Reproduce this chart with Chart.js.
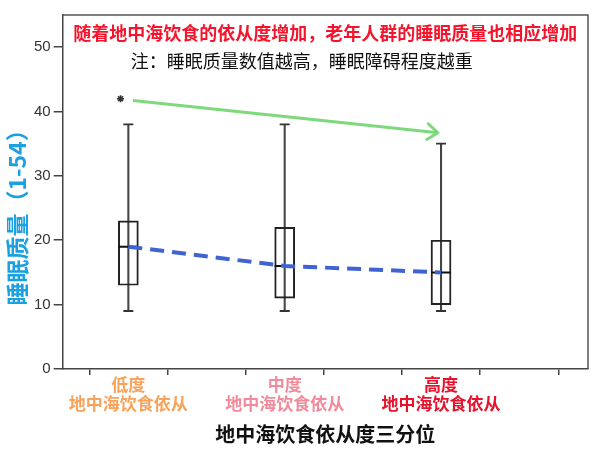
<!DOCTYPE html>
<html>
<head>
<meta charset="utf-8">
<script src="https://cdn.jsdelivr.net/npm/chart.js@4.4.1/dist/chart.umd.min.js"></script>
<style>
  html, body { margin: 0; padding: 0; background: #fff; }
  #wrap { width: 600px; height: 451px; }
</style>
</head>
<body>
<div id="wrap"><canvas id="chart"></canvas></div>
<script>
// ── Data ─────────────────────────────────────────────────────────────────────
const groups      = ['低度', '中度', '高度'];
const groupSub    = '地中海饮食依从';
const groupColors = ['#F8A25A', '#F28A9B', '#E8122C'];
const whiskerLow  = [9, 9, 9];
const whiskerHigh = [38, 38, 35];
const q1          = [13, 11, 10];
const q3          = [23, 22, 20];
const medians     = [19, 16, 15];
const outlierX    = [-0.05];
const outlierY    = [42];
const trendX      = [0.03, 1.98];
const trendY      = [41.7, 36.7];
const yTicks      = [0, 10, 20, 30, 40, 50];
const xTicks      = [0, 0.5, 1, 1.5, 2, 2.5];

const mainTitle = '随着地中海饮食的依从度增加，老年人群的睡眠质量也相应增加';
const noteText  = '注：睡眠质量数值越高，睡眠障碍程度越重';
const yTitle    = '睡眠质量（1-54）';

Chart.defaults.font.family = "'Liberation Sans', 'Noto Sans CJK SC', sans-serif";

const pts = (ys) => ys.map((y, i) => ({ x: i, y: y }));

// ── Plugins ──────────────────────────────────────────────────────────────────
const framePlugin = {
  id: 'frame',
  beforeDatasetsDraw(chart) {
    const { ctx, chartArea: a } = chart;
    ctx.save();
    ctx.strokeStyle = '#555';
    ctx.lineWidth = 1.5;
    ctx.beginPath();
    ctx.moveTo(a.left, a.top);
    ctx.lineTo(a.right, a.top);
    ctx.lineTo(a.right, a.bottom);
    ctx.stroke();

    // captions inside the plot
    ctx.textBaseline = 'middle';
    ctx.fillStyle = '#F5142B';
    ctx.font = "bold 18px 'Noto Sans CJK SC', sans-serif";
    ctx.textAlign = 'center';
    ctx.fillText(mainTitle, (a.left + a.right) / 2, a.top + 18);
    ctx.fillStyle = '#111';
    ctx.font = "18px 'Noto Sans CJK SC', sans-serif";
    ctx.textAlign = 'left';
    ctx.fillText(noteText, a.left + 68, a.top + 46);

    // y axis title (sits a bit below the axis middle, as in the original)
    ctx.translate(17, (a.top + a.bottom) / 2 + 20);
    ctx.rotate(-Math.PI / 2);
    ctx.textAlign = 'center';
    ctx.fillStyle = '#1BA1E2';
    ctx.font = "bold 23px 'Noto Sans CJK SC', sans-serif";
    ctx.fillText(yTitle, 0, 0);
    ctx.restore();
  }
};

const arrowPlugin = {
  id: 'arrowHead',
  afterDatasetsDraw(chart) {
    const idx = chart.data.datasets.findIndex(d => d.label === 'trend');
    const els = chart.getDatasetMeta(idx).data;
    const p0 = els[els.length - 2], p1 = els[els.length - 1];
    const ang = Math.atan2(p1.y - p0.y, p1.x - p0.x);
    const len = 13, spread = 0.65;
    const ctx = chart.ctx;
    ctx.save();
    ctx.strokeStyle = '#7ED87C';
    ctx.lineWidth = 3;
    ctx.lineCap = 'round';
    ctx.lineJoin = 'round';
    ctx.beginPath();
    ctx.moveTo(p1.x - len * Math.cos(ang - spread), p1.y - len * Math.sin(ang - spread));
    ctx.lineTo(p1.x, p1.y);
    ctx.lineTo(p1.x - len * Math.cos(ang + spread), p1.y - len * Math.sin(ang + spread));
    ctx.stroke();
    ctx.restore();
  }
};

// ── Chart ────────────────────────────────────────────────────────────────────
new Chart(document.getElementById('chart'), {
  type: 'bar',
  data: {
    datasets: [
      { label: 'trend', type: 'line', order: 0,
        data: trendX.map((x, i) => ({ x: x, y: trendY[i] })),
        borderColor: '#7ED87C', borderWidth: 3, pointRadius: 0, tension: 0 },
      { label: 'median-line', type: 'line', order: 1,
        data: pts(medians),
        borderColor: '#3F63D3', borderWidth: 4, borderDash: [14, 8],
        pointRadius: 0, tension: 0 },
      { label: 'median', type: 'scatter', order: 2,
        data: pts(medians),
        pointStyle: 'line', pointRadius: 10, borderColor: '#111', borderWidth: 2 },
      { label: 'caps', type: 'scatter', order: 3,
        data: pts(whiskerLow).concat(pts(whiskerHigh)),
        pointStyle: 'line', pointRadius: 5, borderColor: '#333', borderWidth: 1.8 },
      { label: 'outlier', type: 'scatter', order: 3,
        data: outlierX.map((x, i) => ({ x: x, y: outlierY[i] })),
        pointStyle: 'star', pointRadius: 3.5, borderColor: '#333', borderWidth: 1.5 },
      { label: 'box', order: 4,
        data: groups.map((g, i) => ({ x: i, y: [q1[i], q3[i]] })),
        backgroundColor: 'rgba(0,0,0,0)', borderColor: '#222', borderWidth: 1.3,
        borderSkipped: false, barThickness: 20, grouped: false },
      { label: 'whisker', order: 5,
        data: groups.map((g, i) => ({ x: i, y: [whiskerLow[i], whiskerHigh[i]] })),
        backgroundColor: '#444', borderWidth: 0, barThickness: 1.4, grouped: false }
    ]
  },
  options: {
    responsive: true,
    maintainAspectRatio: false,
    animation: false,
    events: [],
    layout: { padding: { left: 31, right: 10, top: 15, bottom: 3 } },
    plugins: { legend: { display: false }, tooltip: { enabled: false } },
    scales: {
      x: {
        type: 'linear', min: -0.42, max: 2.94, offset: false,
        afterBuildTicks: axis => { axis.ticks = xTicks.map(v => ({ value: v })); },
        ticks: {
          autoSkip: false, maxRotation: 0, padding: 2,
          callback: v => Number.isInteger(v) ? [groups[v], groupSub] : '',
          color: ctx => groupColors[ctx.tick.value] || '#000',
          font: { size: 17, weight: 'bold', lineHeight: 1.12 }
        },
        grid: { drawOnChartArea: false, tickLength: 6, color: '#444', lineWidth: 1.5 },
        border: { color: '#444', width: 1.5 },
        title: { display: true, text: '地中海饮食依从度三分位', color: '#111',
          font: { size: 20, weight: 'bold' }, padding: { top: 7, bottom: 0 } }
      },
      y: {
        min: 0, max: 55,
        afterBuildTicks: axis => { axis.ticks = yTicks.map(v => ({ value: v })); },
        ticks: { color: '#333', font: { size: 15 }, padding: 3 },
        grid: { drawOnChartArea: false, tickLength: 9, color: '#444', lineWidth: 1.5 },
        border: { color: '#444', width: 1.5 }
      }
    }
  },
  plugins: [framePlugin, arrowPlugin]
});
</script>
</body>
</html>
